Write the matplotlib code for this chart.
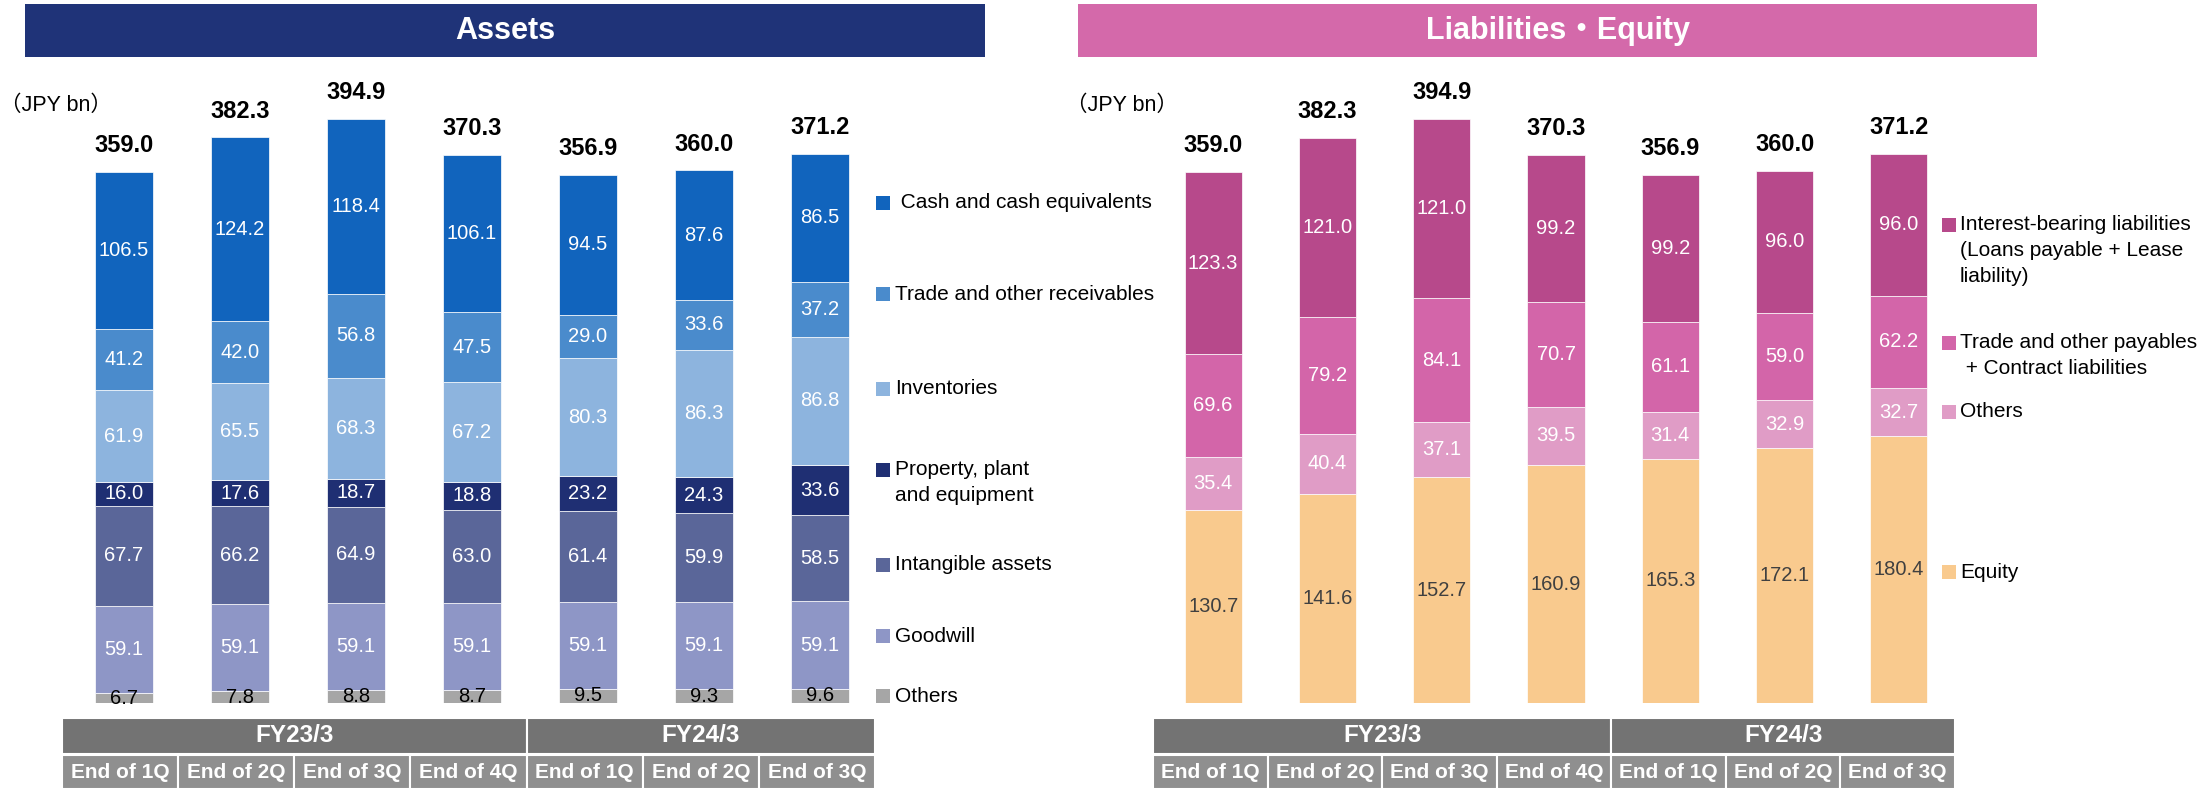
import matplotlib
matplotlib.use("Agg")
import matplotlib.pyplot as plt
from matplotlib.patches import Rectangle

plt.rcParams['font.family'] = ['Liberation Sans', 'Noto Sans CJK JP']

W, H = 2202, 789

# ---- data ----
quarters = ["End of 1Q", "End of 2Q", "End of 3Q", "End of 4Q", "End of 1Q", "End of 2Q", "End of 3Q"]
fiscal_years = ["FY23/3", "FY24/3"]
fy_quarter_counts = [4, 3]

# assets, bottom -> top
asset_names = ["Others", "Goodwill", "Intangible assets", "Property, plant\nand equipment",
               "Inventories", "Trade and other receivables", " Cash and cash equivalents"]
asset_others = [6.7, 7.8, 8.8, 8.7, 9.5, 9.3, 9.6]
asset_goodwill = [59.1, 59.1, 59.1, 59.1, 59.1, 59.1, 59.1]
asset_intangible = [67.7, 66.2, 64.9, 63.0, 61.4, 59.9, 58.5]
asset_ppe = [16.0, 17.6, 18.7, 18.8, 23.2, 24.3, 33.6]
asset_inventories = [61.9, 65.5, 68.3, 67.2, 80.3, 86.3, 86.8]
asset_receivables = [41.2, 42.0, 56.8, 47.5, 29.0, 33.6, 37.2]
asset_cash = [106.5, 124.2, 118.4, 106.1, 94.5, 87.6, 86.5]
asset_totals = [359.0, 382.3, 394.9, 370.3, 356.9, 360.0, 371.2]

# liabilities / equity, bottom -> top
liab_names = ["Equity", "Others", "Trade and other payables\n + Contract liabilities",
              "Interest-bearing liabilities\n(Loans payable + Lease\nliability)"]
liab_equity = [130.7, 141.6, 152.7, 160.9, 165.3, 172.1, 180.4]
liab_others = [35.4, 40.4, 37.1, 39.5, 31.4, 32.9, 32.7]
liab_payables = [69.6, 79.2, 84.1, 70.7, 61.1, 59.0, 62.2]
liab_interest = [123.3, 121.0, 121.0, 99.2, 99.2, 96.0, 96.0]
liab_totals = [359.0, 382.3, 394.9, 370.3, 356.9, 360.0, 371.2]

# ---- styles ----
asset_colors = ["#A6A6A6", "#8E96C6", "#5A6699", "#1F2F73", "#8DB4DE", "#4A8BCC", "#1164BD"]
asset_text_colors = ["black", "white", "white", "white", "white", "white", "white"]
liab_colors = ["#F9CA8E", "#E09CC6", "#D365A9", "#B7498B"]
liab_text_colors = ["#404040", "white", "white", "white"]

PX_PER_UNIT = 1.479
BAR_BOTTOM = 703
BAR_TOP = 60


def px_box(x0, y0, x1, y1):
    return [x0 / W, 1 - y1 / H, (x1 - x0) / W, (y1 - y0) / H]


def draw_bars(x0, x1, stacks, colors, text_colors, totals):
    ax = fig.add_axes(px_box(x0, BAR_TOP, x1, BAR_BOTTOM))
    ax.set_xlim(-0.5, 6.5)
    ax.set_ylim(0, (BAR_BOTTOM - BAR_TOP) / PX_PER_UNIT)
    ax.axis('off')
    xs = list(range(len(totals)))
    bottom = [0.0] * len(xs)
    for vals, color, tc in zip(stacks, colors, text_colors):
        ax.bar(xs, vals, 0.5, bottom=bottom, color=color, edgecolor='white', linewidth=0.5)
        for xi, v, b in zip(xs, vals, bottom):
            ax.text(xi, b + v / 2, f"{v:.1f}", ha='center', va='center', color=tc, fontsize=14.5)
        bottom = [b + v for b, v in zip(bottom, vals)]
    for xi, t, b in zip(xs, totals, bottom):
        ax.annotate(f"{t:.1f}", (xi, b), xytext=(0, 19), textcoords='offset points',
                    ha='center', va='center', fontsize=17, fontweight='bold')


def draw_table(x0, x1):
    tax = fig.add_axes(px_box(x0, 718, x1, 789))
    tax.set_xlim(-0.5, 6.5)
    tax.set_ylim(71, 0)
    tax.axis('off')
    start = 0
    for fy, n in zip(fiscal_years, fy_quarter_counts):
        tax.add_patch(Rectangle((start - 0.5, 0), n, 36, facecolor='#737373', edgecolor='white', linewidth=1.5))
        tax.text(start - 0.5 + n / 2, 18, fy, ha='center', va='center', color='white',
                 fontsize=17.5, fontweight='bold')
        start += n
    for i, q in enumerate(quarters):
        tax.add_patch(Rectangle((i - 0.5, 37), 1, 34, facecolor='#8F8F8F', edgecolor='white', linewidth=1.5))
        tax.text(i, 54.5, q, ha='center', va='center', color='white', fontsize=15, fontweight='bold')


def draw_legend(names, colors, ys, sq_x, txt_x):
    for name, color, y in zip(names, colors, ys):
        fig.add_artist(Rectangle((sq_x / W, 1 - (y + 7) / H), 14 / W, 14 / H,
                                 transform=fig.transFigure, facecolor=color, edgecolor='none'))
        for j, line in enumerate(name.split("\n")):
            fig.text(txt_x / W, 1 - (y + 25.5 * j) / H, line, ha='left', va='center', fontsize=15)


def draw_header(x0, x1, title, color):
    fig.add_artist(Rectangle((x0 / W, 1 - 57 / H), (x1 - x0) / W, 53 / H,
                             transform=fig.transFigure, facecolor=color, edgecolor='none'))
    fig.text((x0 + x1) / 2 / W, 1 - 31 / H, title, ha='center', va='center', color='white',
             fontsize=22, fontweight='bold')


fig = plt.figure(figsize=(W / 100, H / 100), dpi=100)

# assets panel
draw_header(25, 985, "Assets", "#1F3378")
fig.text(0, 1 - 105 / H, "（JPY bn）", ha='left', va='center', fontsize=15.5)
draw_bars(66, 878,
          [asset_others, asset_goodwill, asset_intangible, asset_ppe,
           asset_inventories, asset_receivables, asset_cash],
          asset_colors, asset_text_colors, asset_totals)
draw_table(62, 875)
draw_legend(asset_names, asset_colors, [696, 636, 565, 470, 389, 294, 203], 876, 895)

# liabilities / equity panel
draw_header(1078, 2037, "Liabilities・Equity", "#D469AA")
fig.text(1066 / W, 1 - 105 / H, "（JPY bn）", ha='left', va='center', fontsize=15.5)
draw_bars(1156, 1956,
          [liab_equity, liab_others, liab_payables, liab_interest],
          liab_colors, liab_text_colors, liab_totals)
draw_table(1153, 1955)
draw_legend(liab_names, liab_colors, [572, 412, 343, 225], 1942, 1960)

fig.savefig("out.png", dpi=100)
